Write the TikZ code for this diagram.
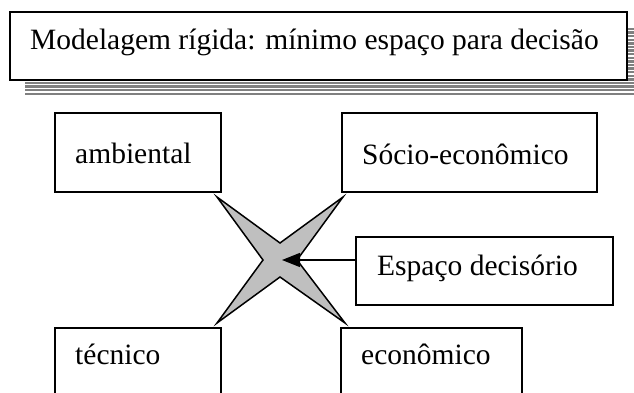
\documentclass[tikz,border=0pt]{standalone}
\usepackage{fontspec}
\setmainfont{Liberation Serif}
\usetikzlibrary{arrows.meta}
\tikzset{
  box/.style={draw=black, line width=1.5pt, anchor=north west, inner sep=0pt, outer sep=0pt},
  titlebox/.style={box, line width=2pt, fill=white},
  lbl/.style={anchor=base west, inner sep=0pt, font=\fontsize{29.5}{32}\selectfont},
  stripe/.style={draw=black!50, line width=2.4pt},
  starshape/.style={draw=black, line width=1.5pt, fill=black!25, line join=miter},
  arr/.style={draw=black, line width=1.3pt, -{Triangle[length=18pt,width=14pt]}}
}
\begin{document}
\begin{tikzpicture}[x=1pt,y=-1pt]
\useasboundingbox (0,0) rectangle (634,393);
\clip (0,0) rectangle (634,393);
\fill[white] (0,0) rectangle (634,393);
% striped shadow of the title box
\begin{scope}
  \clip (628,28) rectangle (634,95) (25,81) rectangle (634,95);
  \foreach \yy in {29,32.6,...,96} {
    \draw[stripe] (20,\yy) -- (640,\yy);
  }
\end{scope}
% title
\node[titlebox, minimum width=617pt, minimum height=68pt] (title) at (10,12) {};
\node[lbl] (titletext) at (30,50) {Modelagem rígida: mínimo espaço para decisão};
% boxes
\node[box, minimum width=166pt, minimum height=79pt] (amb) at (55,113) {};
\node[lbl] (ambt) at (75,163) {ambiental};
\node[box, minimum width=255pt, minimum height=79pt] (soc) at (342,113) {};
\node[lbl] (soct) at (362,164) {Sócio-econômico};
\node[box, minimum width=257pt, minimum height=68pt] (esp) at (356,237) {};
\node[lbl] (espt) at (377,275) {Espaço decisório};
\node[box, minimum width=166pt, minimum height=90pt] (tec) at (55,328) {};
\node[lbl] (tect) at (75,364) {técnico};
\node[box, minimum width=181pt, minimum height=90pt] (eco) at (341,328) {};
\node[lbl] (ecot) at (361,364) {econômico};
% star
\coordinate (c) at (280,260);
\draw[starshape] (217,197) -- (280,243) -- (343,197) -- (297,260) -- (345,323)
  -- (280,277) -- (217,323) -- (263,260) -- cycle;
\coordinate (tip) at (282,260);
\draw[arr] (tip -| esp.west) -- (tip);
\end{tikzpicture}
\end{document}
